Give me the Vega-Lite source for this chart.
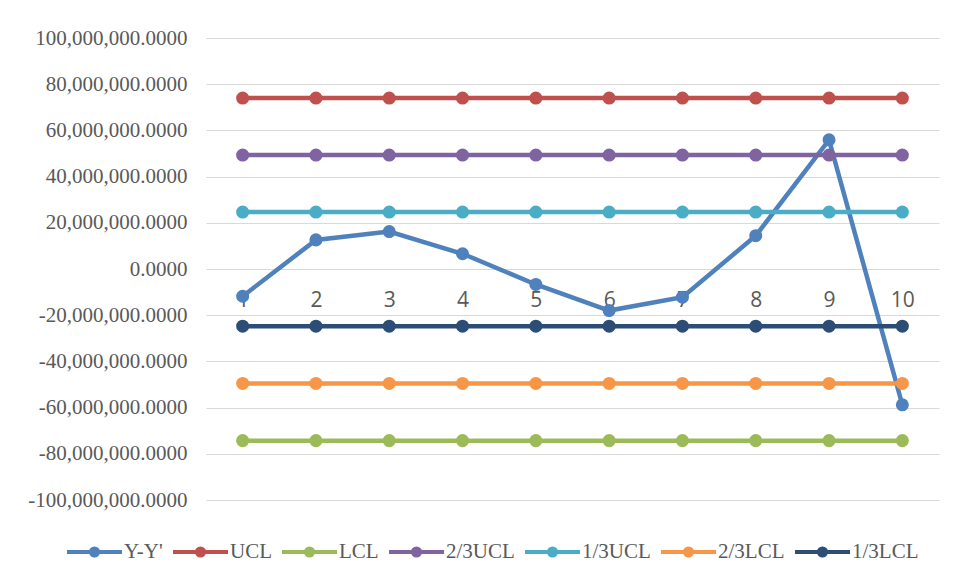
{
  "$schema": "https://vega.github.io/schema/vega-lite/v6.json",
  "width": 733,
  "height": 462,
  "autosize": {"type": "none"},
  "padding": {"left": 206, "top": 38, "right": 18, "bottom": 81},
  "background": "white",
  "config": {"view": {"stroke": null}},
  "data": {
    "values": [
      {"obs": 1, "series": "Y-Y'", "value": -11800000},
      {"obs": 2, "series": "Y-Y'", "value": 12600000},
      {"obs": 3, "series": "Y-Y'", "value": 16200000},
      {"obs": 4, "series": "Y-Y'", "value": 6600000},
      {"obs": 5, "series": "Y-Y'", "value": -6700000},
      {"obs": 6, "series": "Y-Y'", "value": -18000000},
      {"obs": 7, "series": "Y-Y'", "value": -12200000},
      {"obs": 8, "series": "Y-Y'", "value": 14400000},
      {"obs": 9, "series": "Y-Y'", "value": 55900000},
      {"obs": 10, "series": "Y-Y'", "value": -58800000},
      {"obs": 1, "series": "UCL", "value": 74000000},
      {"obs": 2, "series": "UCL", "value": 74000000},
      {"obs": 3, "series": "UCL", "value": 74000000},
      {"obs": 4, "series": "UCL", "value": 74000000},
      {"obs": 5, "series": "UCL", "value": 74000000},
      {"obs": 6, "series": "UCL", "value": 74000000},
      {"obs": 7, "series": "UCL", "value": 74000000},
      {"obs": 8, "series": "UCL", "value": 74000000},
      {"obs": 9, "series": "UCL", "value": 74000000},
      {"obs": 10, "series": "UCL", "value": 74000000},
      {"obs": 1, "series": "LCL", "value": -74300000},
      {"obs": 2, "series": "LCL", "value": -74300000},
      {"obs": 3, "series": "LCL", "value": -74300000},
      {"obs": 4, "series": "LCL", "value": -74300000},
      {"obs": 5, "series": "LCL", "value": -74300000},
      {"obs": 6, "series": "LCL", "value": -74300000},
      {"obs": 7, "series": "LCL", "value": -74300000},
      {"obs": 8, "series": "LCL", "value": -74300000},
      {"obs": 9, "series": "LCL", "value": -74300000},
      {"obs": 10, "series": "LCL", "value": -74300000},
      {"obs": 1, "series": "2/3UCL", "value": 49333333},
      {"obs": 2, "series": "2/3UCL", "value": 49333333},
      {"obs": 3, "series": "2/3UCL", "value": 49333333},
      {"obs": 4, "series": "2/3UCL", "value": 49333333},
      {"obs": 5, "series": "2/3UCL", "value": 49333333},
      {"obs": 6, "series": "2/3UCL", "value": 49333333},
      {"obs": 7, "series": "2/3UCL", "value": 49333333},
      {"obs": 8, "series": "2/3UCL", "value": 49333333},
      {"obs": 9, "series": "2/3UCL", "value": 49333333},
      {"obs": 10, "series": "2/3UCL", "value": 49333333},
      {"obs": 1, "series": "1/3UCL", "value": 24666667},
      {"obs": 2, "series": "1/3UCL", "value": 24666667},
      {"obs": 3, "series": "1/3UCL", "value": 24666667},
      {"obs": 4, "series": "1/3UCL", "value": 24666667},
      {"obs": 5, "series": "1/3UCL", "value": 24666667},
      {"obs": 6, "series": "1/3UCL", "value": 24666667},
      {"obs": 7, "series": "1/3UCL", "value": 24666667},
      {"obs": 8, "series": "1/3UCL", "value": 24666667},
      {"obs": 9, "series": "1/3UCL", "value": 24666667},
      {"obs": 10, "series": "1/3UCL", "value": 24666667},
      {"obs": 1, "series": "2/3LCL", "value": -49533333},
      {"obs": 2, "series": "2/3LCL", "value": -49533333},
      {"obs": 3, "series": "2/3LCL", "value": -49533333},
      {"obs": 4, "series": "2/3LCL", "value": -49533333},
      {"obs": 5, "series": "2/3LCL", "value": -49533333},
      {"obs": 6, "series": "2/3LCL", "value": -49533333},
      {"obs": 7, "series": "2/3LCL", "value": -49533333},
      {"obs": 8, "series": "2/3LCL", "value": -49533333},
      {"obs": 9, "series": "2/3LCL", "value": -49533333},
      {"obs": 10, "series": "2/3LCL", "value": -49533333},
      {"obs": 1, "series": "1/3LCL", "value": -24766667},
      {"obs": 2, "series": "1/3LCL", "value": -24766667},
      {"obs": 3, "series": "1/3LCL", "value": -24766667},
      {"obs": 4, "series": "1/3LCL", "value": -24766667},
      {"obs": 5, "series": "1/3LCL", "value": -24766667},
      {"obs": 6, "series": "1/3LCL", "value": -24766667},
      {"obs": 7, "series": "1/3LCL", "value": -24766667},
      {"obs": 8, "series": "1/3LCL", "value": -24766667},
      {"obs": 9, "series": "1/3LCL", "value": -24766667},
      {"obs": 10, "series": "1/3LCL", "value": -24766667}
    ]
  },
  "encoding": {
    "x": {
      "field": "obs",
      "type": "ordinal",
      "scale": {"type": "point", "padding": 0.5},
      "axis": {
        "title": null,
        "orient": "bottom",
        "offset": -231,
        "domain": false,
        "ticks": false,
        "labelAngle": 0,
        "labelFont": "Open Sans",
        "labelFontSize": 21,
        "labelColor": "#595959",
        "labelPadding": 20,
        "grid": false
      }
    },
    "y": {
      "field": "value",
      "type": "quantitative",
      "scale": {"domain": [-100000000, 100000000], "nice": false, "zero": false},
      "axis": {
        "title": null,
        "values": [-100000000, -80000000, -60000000, -40000000, -20000000, 0, 20000000, 40000000, 60000000, 80000000, 100000000],
        "labelExpr": "replace(format(datum.value, ',.4f'), '\u2212', '-')",
        "labelFont": "Liberation Serif",
        "labelFontSize": 21,
        "labelColor": "#595959",
        "labelPadding": 19,
        "domain": false,
        "ticks": false,
        "tickSize": 0,
        "grid": true,
        "gridColor": "#d9d9d9",
        "gridWidth": 1.2
      }
    },
    "color": {
      "field": "series",
      "type": "nominal",
      "sort": ["Y-Y'", "UCL", "LCL", "2/3UCL", "1/3UCL", "2/3LCL", "1/3LCL"],
      "scale": {
        "domain": ["Y-Y'", "UCL", "LCL", "2/3UCL", "1/3UCL", "2/3LCL", "1/3LCL"],
        "range": ["#4f81bd", "#c0504d", "#9bbb59", "#8064a2", "#4bacc6", "#f79646", "#2c4d75"]
      },
      "legend": {
        "title": null,
        "orient": "none",
        "direction": "horizontal",
        "legendX": -141,
        "legendY": 484,
        "symbolType": "M-1,0L1,0M-0.13,0A0.13,0.13,0,1,1,0.13,0A0.13,0.13,0,1,1,-0.13,0Z",
        "symbolSize": 3025,
        "symbolStrokeWidth": 4,
        "labelFont": "Liberation Serif",
        "labelFontSize": 21,
        "labelColor": "#595959",
        "labelOffset": 0,
        "columnPadding": 2,
        "encode": {
          "symbols": {
            "update": {
              "fill": {"scale": "color", "field": "value"},
              "stroke": {"scale": "color", "field": "value"},
              "opacity": {"value": 1}
            }
          }
        }
      }
    }
  },
  "layer": [
    {
      "mark": {"type": "line", "strokeWidth": 4.5}
    },
    {
      "mark": {"type": "point", "shape": "circle", "filled": true, "size": 170, "opacity": 1}
    }
  ]
}
